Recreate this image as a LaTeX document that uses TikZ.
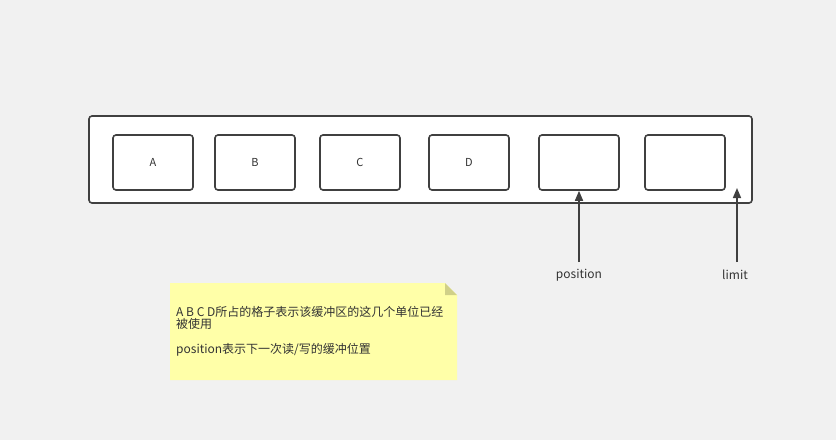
\documentclass[tikz,border=0pt]{standalone}
\usepackage{fontspec}
\newfontfamily\cjk{Noto Sans CJK SC}
\usetikzlibrary{arrows.meta}
\definecolor{bg}{HTML}{F1F1F1}
\definecolor{stroke}{HTML}{404040}
\definecolor{notefill}{HTML}{FFFFA8}
\definecolor{notefold}{HTML}{D0D088}
\definecolor{txt}{HTML}{333333}
\tikzset{
  cell/.style={draw=stroke, fill=white, line width=1.6pt, rounded corners=3pt,
    minimum width=80pt, minimum height=55pt, inner sep=0pt,
    font=\cjk\fontsize{11}{13}\selectfont, text=txt},
  outerbox/.style={draw=stroke, fill=white, line width=1.6pt, rounded corners=3pt,
    minimum width=663pt, minimum height=87pt, inner sep=0pt},
  ptr/.style={draw=stroke, line width=1.6pt, -{Triangle[length=10pt,width=8pt]}},
  lbl/.style={font=\cjk\fontsize{12}{14}\selectfont, text=txt, inner sep=0pt},
  notetext/.style={font=\cjk\fontsize{12}{12.5}\selectfont, text=txt, align=left,
    anchor=north west, inner sep=0pt},
}
\begin{document}
\begin{tikzpicture}[x=1pt,y=-1pt]
\fill[bg] (0,0) rectangle (836,440);
\useasboundingbox (0,0) rectangle (836,440);
\node[outerbox] (buf) at (420.5,159.5) {};
\node[cell] (A) at (153,162.5) {A};
\node[cell] (B) at (255,162.5) {B};
\node[cell] (C) at (360,162.5) {C};
\node[cell] (D) at (469,162.5) {D};
\node[cell] (E) at (579,162.5) {};
\node[cell] (F) at (685,162.5) {};
\coordinate (ps) at (579,262);
\coordinate (ls) at (737,262);
\coordinate (le) at (737,188);
\draw[ptr] (ps) -- (E.south);
\draw[ptr] (ls) -- (le);
\node[lbl] (plbl) at (579,275) {position};
\node[lbl] (llbl) at (735,275) {limit};
% note
\fill[notefill] (170,283) -- (445,283) -- (457,295) -- (457,380) -- (170,380) -- cycle;
\fill[notefold] (445,283) -- (457,295) -- (445,295) -- cycle;
\node[notetext] (note) at (176,306) {A B C D所占的格子表示该缓冲区的这几个单位已经\\被使用\\[12.5pt]position表示下一次读/写的缓冲位置};
\end{tikzpicture}
\end{document}
